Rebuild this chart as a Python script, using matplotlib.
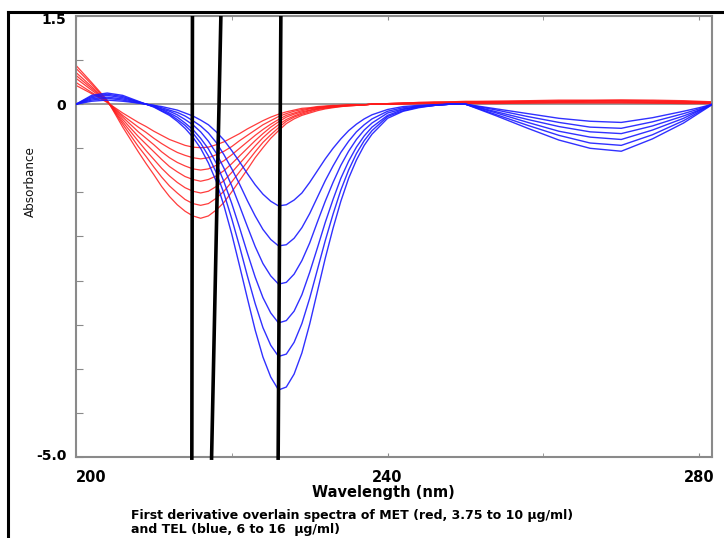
import matplotlib
matplotlib.use("Agg")
import matplotlib.pyplot as plt
import matplotlib.transforms as mtransforms
from matplotlib import font_manager

# ---------------- data ----------------
wavelength = [200, 202, 204, 206, 208, 209, 210, 211, 212, 213, 214, 215, 216, 217, 218,
              219, 220, 221, 222, 223, 224, 225, 226, 227, 228, 229, 230, 231, 232, 233,
              234, 235, 236, 237, 238, 240, 242, 244, 246, 248, 250, 254, 258, 262, 266,
              270, 274, 278, 280, 282]

# MET (red), 3.75 to 10 ug/ml
met_1 = [0.32, 0.18, 0.03, -0.15, -0.31, -0.38, -0.46, -0.53, -0.60, -0.65, -0.70, -0.73, -0.74, -0.73, -0.69,
         -0.64, -0.57, -0.50, -0.42, -0.35, -0.28, -0.22, -0.17, -0.13, -0.10, -0.07, -0.06, -0.04, -0.03, -0.02,
         -0.02, -0.01, -0.01, -0.01, 0.00, 0.00, 0.00, 0.01, 0.01, 0.01, 0.01, 0.01, 0.02, 0.02, 0.02,
         0.02, 0.02, 0.01, 0.01, 0.01]
met_2 = [0.37, 0.20, 0.04, -0.19, -0.39, -0.48, -0.58, -0.67, -0.75, -0.82, -0.87, -0.91, -0.93, -0.91, -0.86,
         -0.80, -0.72, -0.62, -0.53, -0.44, -0.35, -0.28, -0.21, -0.16, -0.12, -0.09, -0.07, -0.05, -0.04, -0.03,
         -0.02, -0.01, -0.01, -0.01, 0.00, 0.00, 0.01, 0.01, 0.01, 0.01, 0.02, 0.02, 0.02, 0.03, 0.03,
         0.03, 0.02, 0.02, 0.02, 0.01]
met_3 = [0.44, 0.24, 0.04, -0.22, -0.47, -0.58, -0.69, -0.81, -0.91, -0.99, -1.05, -1.10, -1.12, -1.10, -1.04,
         -0.96, -0.86, -0.75, -0.64, -0.53, -0.43, -0.34, -0.26, -0.19, -0.15, -0.11, -0.08, -0.06, -0.04, -0.03,
         -0.02, -0.02, -0.01, -0.01, 0.00, 0.00, 0.01, 0.01, 0.02, 0.02, 0.02, 0.03, 0.03, 0.04, 0.04,
         0.04, 0.03, 0.03, 0.02, 0.02]
met_4 = [0.49, 0.27, 0.05, -0.26, -0.55, -0.68, -0.81, -0.94, -1.06, -1.15, -1.23, -1.28, -1.31, -1.28, -1.22,
         -1.13, -1.01, -0.88, -0.75, -0.62, -0.50, -0.39, -0.30, -0.22, -0.17, -0.13, -0.10, -0.07, -0.05, -0.04,
         -0.03, -0.02, -0.01, -0.01, 0.00, 0.00, 0.01, 0.02, 0.02, 0.03, 0.03, 0.03, 0.04, 0.04, 0.05,
         0.05, 0.04, 0.04, 0.03, 0.02]
met_5 = [0.54, 0.30, 0.05, -0.30, -0.63, -0.79, -0.94, -1.09, -1.22, -1.33, -1.42, -1.48, -1.51, -1.48, -1.40,
         -1.30, -1.16, -1.01, -0.86, -0.71, -0.57, -0.45, -0.35, -0.26, -0.20, -0.15, -0.11, -0.08, -0.06, -0.05,
         -0.03, -0.02, -0.02, -0.01, 0.00, 0.01, 0.02, 0.02, 0.03, 0.03, 0.04, 0.04, 0.05, 0.05, 0.06,
         0.06, 0.05, 0.04, 0.04, 0.03]
met_6 = [0.61, 0.34, 0.06, -0.34, -0.72, -0.89, -1.07, -1.24, -1.39, -1.51, -1.62, -1.69, -1.72, -1.69, -1.60,
         -1.48, -1.32, -1.15, -0.98, -0.81, -0.65, -0.52, -0.40, -0.29, -0.22, -0.17, -0.13, -0.09, -0.07, -0.05,
         -0.04, -0.03, -0.02, -0.01, 0.00, 0.01, 0.02, 0.03, 0.03, 0.04, 0.04, 0.05, 0.05, 0.06, 0.06,
         0.07, 0.06, 0.05, 0.04, 0.03]
met_7 = [0.66, 0.37, 0.07, -0.39, -0.81, -1.01, -1.20, -1.40, -1.57, -1.71, -1.82, -1.90, -1.94, -1.90, -1.80,
         -1.67, -1.49, -1.30, -1.11, -0.91, -0.74, -0.58, -0.45, -0.33, -0.25, -0.19, -0.15, -0.11, -0.08, -0.06,
         -0.04, -0.03, -0.02, -0.01, 0.00, 0.01, 0.02, 0.03, 0.04, 0.04, 0.05, 0.05, 0.06, 0.07, 0.07,
         0.07, 0.07, 0.06, 0.05, 0.04]

# TEL (blue), 6 to 16 ug/ml
tel_1 = [0.00, 0.05, 0.07, 0.05, 0.02, 0.00, -0.02, -0.04, -0.07, -0.10, -0.15, -0.20, -0.27, -0.35, -0.47,
         -0.61, -0.79, -0.98, -1.18, -1.37, -1.53, -1.65, -1.73, -1.71, -1.63, -1.51, -1.33, -1.13, -0.93, -0.75,
         -0.59, -0.45, -0.34, -0.25, -0.18, -0.09, -0.04, -0.02, -0.01, 0.00, 0.00, -0.08, -0.16, -0.24, -0.29,
         -0.31, -0.23, -0.12, -0.06, 0.01]
tel_2 = [0.00, 0.07, 0.10, 0.07, 0.02, 0.00, -0.02, -0.06, -0.10, -0.14, -0.20, -0.28, -0.37, -0.49, -0.65,
         -0.86, -1.10, -1.36, -1.64, -1.90, -2.13, -2.30, -2.41, -2.39, -2.28, -2.10, -1.86, -1.58, -1.30, -1.05,
         -0.82, -0.63, -0.47, -0.35, -0.25, -0.12, -0.06, -0.03, -0.01, 0.00, 0.00, -0.10, -0.21, -0.31, -0.39,
         -0.41, -0.30, -0.16, -0.08, 0.01]
tel_3 = [0.00, 0.09, 0.12, 0.09, 0.03, 0.00, -0.03, -0.08, -0.12, -0.18, -0.26, -0.35, -0.47, -0.63, -0.83,
         -1.09, -1.39, -1.73, -2.08, -2.42, -2.71, -2.92, -3.06, -3.03, -2.89, -2.66, -2.36, -2.00, -1.65, -1.33,
         -1.04, -0.80, -0.60, -0.44, -0.32, -0.15, -0.08, -0.04, -0.02, 0.00, 0.00, -0.13, -0.26, -0.38, -0.47,
         -0.50, -0.37, -0.20, -0.10, 0.02]
tel_4 = [0.00, 0.11, 0.15, 0.11, 0.04, 0.00, -0.04, -0.09, -0.15, -0.22, -0.32, -0.43, -0.58, -0.76, -1.00,
         -1.32, -1.69, -2.10, -2.53, -2.94, -3.29, -3.55, -3.72, -3.68, -3.52, -3.24, -2.86, -2.44, -2.01, -1.62,
         -1.26, -0.97, -0.73, -0.54, -0.39, -0.19, -0.09, -0.04, -0.02, 0.00, 0.00, -0.15, -0.31, -0.46, -0.56,
         -0.60, -0.44, -0.24, -0.11, 0.02]
tel_5 = [0.00, 0.13, 0.17, 0.13, 0.04, 0.00, -0.04, -0.11, -0.17, -0.26, -0.36, -0.49, -0.66, -0.88, -1.16,
         -1.52, -1.95, -2.42, -2.92, -3.39, -3.80, -4.10, -4.29, -4.25, -4.05, -3.73, -3.30, -2.81, -2.32, -1.87,
         -1.46, -1.12, -0.84, -0.62, -0.45, -0.21, -0.11, -0.05, -0.02, 0.00, 0.00, -0.18, -0.36, -0.53, -0.66,
         -0.70, -0.52, -0.28, -0.13, 0.02]
tel_6 = [0.00, 0.15, 0.19, 0.15, 0.05, 0.00, -0.05, -0.12, -0.19, -0.29, -0.41, -0.56, -0.75, -1.00, -1.31,
         -1.73, -2.21, -2.75, -3.30, -3.84, -4.30, -4.64, -4.86, -4.81, -4.59, -4.23, -3.74, -3.18, -2.62, -2.11,
         -1.65, -1.26, -0.95, -0.70, -0.51, -0.24, -0.12, -0.06, -0.02, 0.00, 0.00, -0.20, -0.41, -0.61, -0.75,
         -0.80, -0.59, -0.32, -0.15, 0.02]

met_series = [met_1, met_2, met_3, met_4, met_5, met_6, met_7]
tel_series = [tel_1, tel_2, tel_3, tel_4, tel_5, tel_6]

# hand-drawn wavelength markers (top wavelength, bottom wavelength)
marker_lines = [(214.95, 214.87), (218.6, 217.4), (226.3, 225.95)]

x_ticks_major = [200, 240, 280]
x_tick_labels = ['200', '240', '280']
x_ticks_minor = [220, 260]
y_ticks = [1.5, 0.75, 0.0, -0.75, -1.5, -2.25, -3.0, -3.75, -4.5, -5.25, -6.0]
y_tick_labels = ['1.5', '', '0', '', '', '', '', '', '', '', '-5.0']

caption_1 = 'First derivative overlain spectra of MET (red, 3.75 to 10 \u00b5g/ml)'
caption_2 = 'and TEL (blue, 6 to 16  \u00b5g/ml)'

# ---------------- figure ----------------
W, H = 724, 538
fig = plt.figure(figsize=(W / 100, H / 100), dpi=100)
fig.patch.set_facecolor('white')

ax = fig.add_axes([76 / W, 1 - 457 / H, (712 - 76) / W, (457 - 16) / H])
ax.set_xlim(200, 281.65)
ax.set_ylim(-6.0, 1.5)

grey = '#8a8a8a'
ax.axhline(0, color=grey, lw=1.2, zorder=1)

for s in met_series:
    ax.plot(wavelength, s, color='#ff1a1a', lw=0.9, alpha=0.85, zorder=2)
for s in tel_series:
    ax.plot(wavelength, s, color='#1a1aff', lw=1.0, alpha=0.9, zorder=3)

for top, bot in marker_lines:
    ax.plot([top, bot], [1.5, -6.05], color='black', lw=2.6, zorder=6,
            solid_capstyle='butt', clip_on=False)

for sp in ax.spines.values():
    sp.set_color(grey)
    sp.set_linewidth(1.5)

ax.set_xticks(x_ticks_major)
ax.set_xticklabels(x_tick_labels, fontsize=10.5, fontweight='bold')
ax.set_xticks(x_ticks_minor, minor=True)
ax.tick_params(axis='x', which='both', direction='in', length=3, color=grey,
               top=True, pad=9)
for lab in ax.get_xticklabels():
    if lab.get_text() == '200':
        lab.set_horizontalalignment('left')

ax.set_yticks(y_ticks)
ax.set_yticklabels(y_tick_labels, fontsize=10, fontweight='bold')
ax.tick_params(axis='y', direction='in', length=5, color=grey, pad=7)
for lab in ax.get_yticklabels():
    t = lab.get_text()
    if t == '1.5':
        lab.set_transform(lab.get_transform() + mtransforms.ScaledTranslation(0, -3 / 100, fig.dpi_scale_trans))
    elif t == '-5.0':
        lab.set_transform(lab.get_transform() + mtransforms.ScaledTranslation(0, 2 / 100, fig.dpi_scale_trans))

fig.text(383 / W, 1 - 493 / H, 'Wavelength (nm)', fontsize=10.5, fontweight='bold',
         ha='center', va='center')

# narrow font for the y label if it is available
avail = {f.name for f in font_manager.fontManager.ttflist}
if 'Liberation Sans Narrow' in avail:
    ylab_kw = dict(family=['Liberation Sans Narrow', 'DejaVu Sans'], fontsize=10.5, fontweight='bold')
else:
    ylab_kw = dict(family=['DejaVu Sans'], fontsize=9.5, fontstretch='condensed')
fig.text(30 / W, 1 - 182 / H, 'Absorbance', rotation=90, ha='center', va='center',
         color='#111111', **ylab_kw)
fig.text(131 / W, 1 - 515 / H, caption_1, fontsize=9, fontweight='bold', ha='left', va='center')
fig.text(131 / W, 1 - 529 / H, caption_2, fontsize=9, fontweight='bold', ha='left', va='center')

# outer frame lines of the picture
fig.add_artist(plt.Line2D([8 / W, 8 / W], [0, 1 - 12 / H], color='black', lw=2.2,
                          transform=fig.transFigure))
fig.add_artist(plt.Line2D([8 / W, 1], [1 - 12 / H, 1 - 12 / H], color='black', lw=2.2,
                          transform=fig.transFigure))

fig.savefig('out.png', dpi=100)
